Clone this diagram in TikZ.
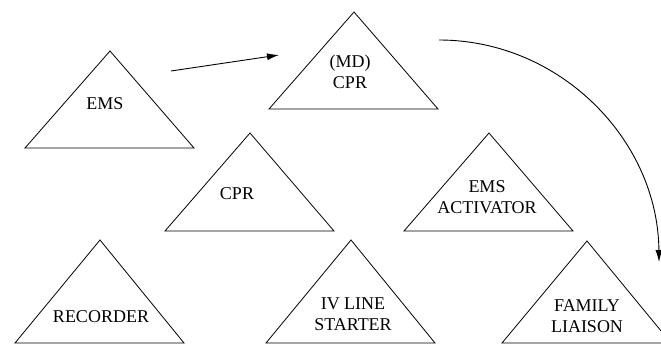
\documentclass[tikz,border=0pt]{standalone}
\usepackage{fontspec}
\setmainfont{Liberation Serif}
\newfontfamily\trifont{Liberation Serif}
\usetikzlibrary{arrows.meta}
\tikzset{
  tri/.style={draw, line width=0.8pt},
  lbl/.style={align=center, font=\trifont\fontsize{18}{21}\selectfont, inner sep=0pt},
  arr/.style={-{Latex[length=12pt,width=7pt]}, line width=0.9pt},
}
\begin{document}
\begin{tikzpicture}[x=1pt,y=-1pt]
  \clip (0,0) rectangle (661,347);
  % triangles, apex and height
  \foreach \n/\x/\y/\h in {ems/110/51/97, mdcpr/354/12/97, cpr/250/133/98, act/489/133/98,
      rec/100/240/103, ivs/351/240/103, fam/587/241/102}
    \draw[tri] (\x,\y) coordinate (\n) -- ++(-85,\h) -- ++(169,0) -- cycle;
  % labels
  \node[lbl] (emst) at (105,104) {EMS};
  \node[lbl] (mdcprt) at (350,72) {(MD)\\CPR};
  \node[lbl] (cprt) at (237,194) {CPR};
  \node[lbl] (actt) at (487,197) {EMS\\ACTIVATOR};
  \node[lbl] (rect) at (101,317) {RECORDER};
  \node[lbl] (ivst) at (353,314) {IV LINE\\STARTER};
  \node[lbl] (famt) at (587,316) {FAMILY\\LIAISON};
  % arrows
  \draw[arr] ([shift={(61,20)}]ems) -- ([shift={(-75,43)}]mdcpr);
  \draw[arr] ([shift={(85,28)}]mdcpr) .. controls (560,40) and (658,140) .. ([shift={(72,21)}]fam);
\end{tikzpicture}
\end{document}
